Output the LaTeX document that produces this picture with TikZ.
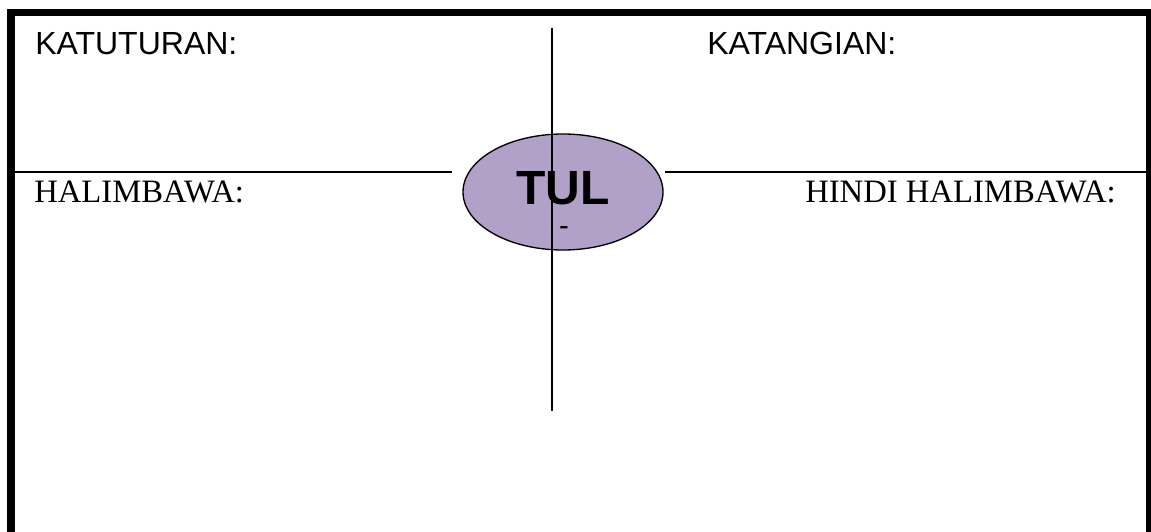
\documentclass[tikz,border=0pt]{standalone}
\usepackage{fontspec}
\setmainfont{Liberation Serif}
\newfontfamily\arialfont{Liberation Sans}
\tikzset{
  frameline/.style={line width=5.5pt},
  divline/.style={line width=1.2pt},
  bubble/.style={ellipse, draw, line width=1pt, fill=tulpurple, minimum width=200*0.75pt, minimum height=116*0.75pt, inner sep=0pt},
  sanslabel/.style={font=\arialfont\fontsize{24}{27}\selectfont, anchor=base west, inner sep=0pt},
  seriflabel/.style={font=\fontsize{24.5}{28}\selectfont, anchor=base west, inner sep=0pt},
}
\usetikzlibrary{shapes.geometric}
\definecolor{tulpurple}{HTML}{B1A0C7}
\begin{document}
\begin{tikzpicture}[x=0.75pt,y=-0.75pt]
\useasboundingbox (0,0) rectangle (1151,531);
\fill[white] (0,0) rectangle (1151,531);
% frame
\draw[frameline] (11,545) -- (11,12.5) -- (1150,12.5) -- (1150,545);
% divider coordinates
\coordinate (vtop) at (552,28);
\coordinate (vbot) at (552,411);
\coordinate (hl) at (15,172);
\coordinate (hr) at (1146,172);
% ellipse
\node[bubble] (tul) at (563,192) {};
\draw[divline] (hl) -- ([xshift=-10*0.75pt]tul.west |- hl);
\draw[divline] ([xshift=1*0.75pt]tul.east |- hr) -- (hr);
\draw[divline] (vtop) -- (vbot);
\node[font=\arialfont\bfseries\fontsize{36}{40}\selectfont, anchor=base, inner sep=0pt] (tultext) at (563,204) {TUL};
\node[font=\arialfont\fontsize{22}{24}\selectfont, anchor=base, inner sep=0pt] (dash) at (564,235) {-};
% labels
\node[sanslabel] (katuturan) at (35,55) {KATUTURAN:};
\node[sanslabel] (katangian) at (707,55) {KATANGIAN:};
\node[seriflabel] (halimbawa) at (34,202) {HALIMBAWA:};
\node[seriflabel] (hindi) at (805,202) {HINDI HALIMBAWA:};
\end{tikzpicture}
\end{document}
